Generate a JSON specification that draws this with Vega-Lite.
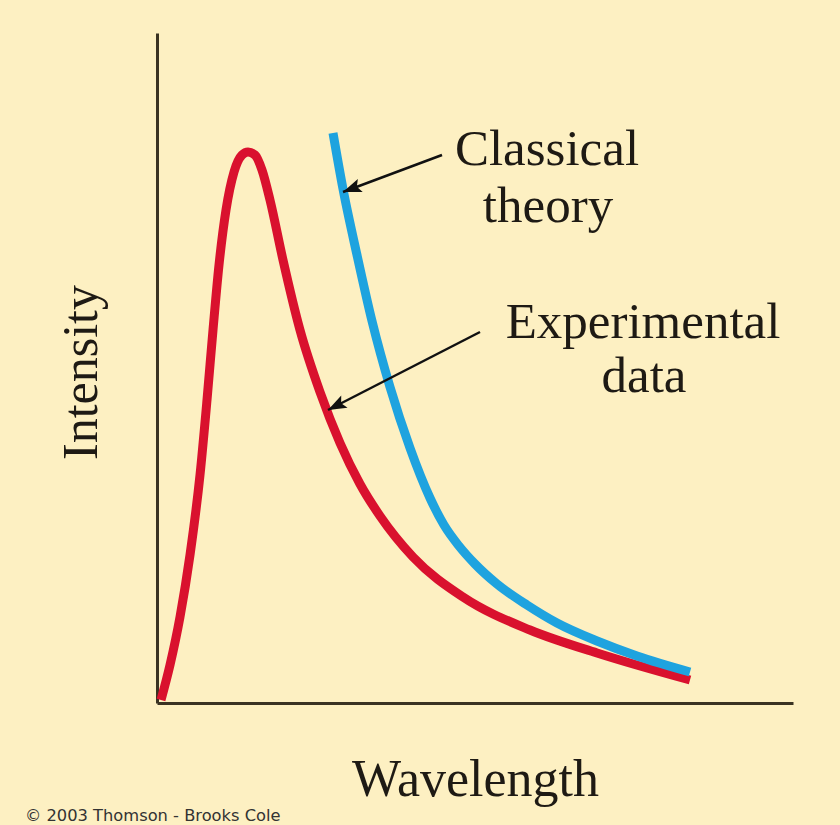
{
  "$schema": "https://vega.github.io/schema/vega-lite/v6.json",
  "width": 636,
  "height": 670,
  "autosize": "none",
  "padding": {"left": 157, "top": 33, "right": 47, "bottom": 122},
  "background": "#fdf0c2",
  "config": {"view": {"stroke": null}, "font": "Liberation Serif"},
  "datasets": {
    "curves": [
      {"series": "Experimental data", "w": 4, "i": 3},
      {"series": "Experimental data", "w": 13, "i": 38},
      {"series": "Experimental data", "w": 23, "i": 86},
      {"series": "Experimental data", "w": 33, "i": 148},
      {"series": "Experimental data", "w": 43, "i": 228},
      {"series": "Experimental data", "w": 50, "i": 303},
      {"series": "Experimental data", "w": 56, "i": 373},
      {"series": "Experimental data", "w": 62, "i": 438},
      {"series": "Experimental data", "w": 69, "i": 493},
      {"series": "Experimental data", "w": 77, "i": 531},
      {"series": "Experimental data", "w": 85, "i": 548},
      {"series": "Experimental data", "w": 91, "i": 551},
      {"series": "Experimental data", "w": 98, "i": 548},
      {"series": "Experimental data", "w": 105, "i": 533},
      {"series": "Experimental data", "w": 113, "i": 503},
      {"series": "Experimental data", "w": 126, "i": 443},
      {"series": "Experimental data", "w": 143, "i": 373},
      {"series": "Experimental data", "w": 163, "i": 311},
      {"series": "Experimental data", "w": 183, "i": 260},
      {"series": "Experimental data", "w": 203, "i": 219},
      {"series": "Experimental data", "w": 223, "i": 187},
      {"series": "Experimental data", "w": 256, "i": 146},
      {"series": "Experimental data", "w": 306, "i": 106},
      {"series": "Experimental data", "w": 373, "i": 73},
      {"series": "Experimental data", "w": 440, "i": 50},
      {"series": "Experimental data", "w": 533, "i": 23},
      {"series": "Classical theory", "w": 176, "i": 570},
      {"series": "Classical theory", "w": 186, "i": 514},
      {"series": "Classical theory", "w": 200, "i": 448},
      {"series": "Classical theory", "w": 215, "i": 382},
      {"series": "Classical theory", "w": 233, "i": 316},
      {"series": "Classical theory", "w": 253, "i": 255},
      {"series": "Classical theory", "w": 273, "i": 205},
      {"series": "Classical theory", "w": 287, "i": 178},
      {"series": "Classical theory", "w": 302, "i": 157},
      {"series": "Classical theory", "w": 318, "i": 139},
      {"series": "Classical theory", "w": 340, "i": 119},
      {"series": "Classical theory", "w": 370, "i": 98},
      {"series": "Classical theory", "w": 400, "i": 80},
      {"series": "Classical theory", "w": 440, "i": 62},
      {"series": "Classical theory", "w": 480, "i": 47},
      {"series": "Classical theory", "w": 533, "i": 31}
    ],
    "arrows": [
      {"label": "Classical theory", "w": 285, "i": 548, "w2": 186, "i2": 511, "angle": 249.5},
      {"label": "Experimental data", "w": 323, "i": 371, "w2": 171, "i2": 293, "angle": 242.8}
    ],
    "labels": [
      {"text": "Classical", "w": 390, "i": 538},
      {"text": "theory", "w": 391, "i": 481},
      {"text": "Experimental", "w": 486, "i": 365},
      {"text": "data", "w": 487, "i": 311}
    ],
    "credit": [
      {"text": "© 2003 Thomson - Brooks Cole", "w": -132, "i": -118}
    ]
  },
  "layer": [
    {
      "data": {"name": "curves"},
      "mark": {"type": "line", "strokeWidth": 9, "interpolate": "monotone", "clip": false},
      "encoding": {
        "x": {
          "field": "w", "type": "quantitative",
          "scale": {"domain": [0, 636], "nice": false, "zero": false},
          "axis": {"title": "Wavelength", "labels": false, "ticks": false, "grid": false,
                   "domainColor": "#3a3322", "domainWidth": 3,
                   "titleFont": "Liberation Serif", "titleFontSize": 52, "titleFontWeight": "normal",
                   "titleColor": "#1e1a14", "titleX": 318, "titleY": 92, "titleAlign": "center",
                   "titleBaseline": "alphabetic", "titleAnchor": null}
        },
        "y": {
          "field": "i", "type": "quantitative",
          "scale": {"domain": [0, 670], "nice": false, "zero": false},
          "axis": {"title": "Intensity", "labels": false, "ticks": false, "grid": false,
                   "domainColor": "#3a3322", "domainWidth": 3,
                   "titleFont": "Liberation Serif", "titleFontSize": 50, "titleFontWeight": "normal",
                   "titleColor": "#1e1a14", "titleX": -61, "titleY": 339, "titleAlign": "center",
                   "titleBaseline": "alphabetic", "titleAngle": -90, "titleAnchor": null}
        },
        "color": {
          "field": "series", "type": "nominal",
          "scale": {"domain": ["Experimental data", "Classical theory"], "range": ["#d9112e", "#1ea3df"]},
          "legend": null
        },
        "order": {"field": "w", "type": "quantitative"}
      }
    },
    {
      "data": {"name": "arrows"},
      "mark": {"type": "rule", "color": "#111111", "strokeWidth": 2.5},
      "encoding": {
        "x": {"field": "w", "type": "quantitative", "scale": {"domain": [0, 636], "nice": false, "zero": false}},
        "y": {"field": "i", "type": "quantitative", "scale": {"domain": [0, 670], "nice": false, "zero": false}},
        "x2": {"field": "w2"},
        "y2": {"field": "i2"}
      }
    },
    {
      "data": {"name": "arrows"},
      "mark": {"type": "point", "filled": true, "color": "#111111", "opacity": 1,
               "shape": "M0,0 L0.75,2 L0,1.6 L-0.75,2 Z", "size": 340},
      "encoding": {
        "x": {"field": "w2", "type": "quantitative", "scale": {"domain": [0, 636], "nice": false, "zero": false}},
        "y": {"field": "i2", "type": "quantitative", "scale": {"domain": [0, 670], "nice": false, "zero": false}},
        "angle": {"field": "angle", "type": "quantitative", "scale": null}
      }
    },
    {
      "data": {"name": "labels"},
      "mark": {"type": "text", "font": "Liberation Serif", "fontSize": 51, "align": "center",
               "baseline": "alphabetic", "color": "#1e1a14"},
      "encoding": {
        "x": {"field": "w", "type": "quantitative", "scale": {"domain": [0, 636], "nice": false, "zero": false}},
        "y": {"field": "i", "type": "quantitative", "scale": {"domain": [0, 670], "nice": false, "zero": false}},
        "text": {"field": "text"}
      }
    },
    {
      "data": {"name": "credit"},
      "mark": {"type": "text", "font": "DejaVu Sans", "fontSize": 16.3, "align": "left",
               "baseline": "alphabetic", "color": "#333333", "clip": false},
      "encoding": {
        "x": {"field": "w", "type": "quantitative", "scale": {"domain": [0, 636], "nice": false, "zero": false}},
        "y": {"field": "i", "type": "quantitative", "scale": {"domain": [0, 670], "nice": false, "zero": false}},
        "text": {"field": "text"}
      }
    }
  ]
}
